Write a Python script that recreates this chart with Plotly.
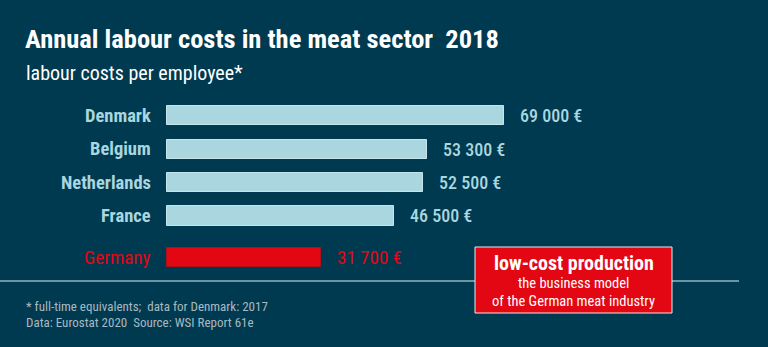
import plotly.graph_objects as go

# ---- data ----
countries = ["Denmark", "Belgium", "Netherlands", "France", "Germany"]
costs = [69000, 53300, 52500, 46500, 31700]
title = "Annual labour costs in the meat sector  2018"
subtitle = "labour costs per employee*"
footnote1 = "* full-time equivalents;  data for Denmark: 2017"
footnote2 = "Data: Eurostat 2020  Source: WSI Report 61e"
box_lines = ["low-cost production", "the business model", "of the German meat industry"]

# ---- layout / style ----
W, H = 768, 347
BG = "#003a50"
LIGHT = "#a9d6df"
RED = "#e30613"
FONT = "Roboto Condensed, DejaVu Sans Condensed, sans-serif"
row_pos = [0, 1, 2, 3, 4.23]          # Germany set apart from the others
colors = [LIGHT, LIGHT, LIGHT, LIGHT, RED]

x0_px, x_ref_px = 166.7, 503.5         # pixel of 0 and of the max value
k = (x_ref_px - x0_px) / max(costs)
x_range = [-x0_px / k, (W - x0_px) / k]
y0_px, dy_px = 115.7, 33.43
y_range = [(H - y0_px) / dy_px, -y0_px / dy_px]

def px(x): return x / W
def py(y): return 1 - y / H

fig = go.Figure()
fig.add_trace(go.Bar(
    x=costs, y=row_pos, orientation="h", width=0.57,
    marker=dict(color=colors, line=dict(color=["#c4e6ec"] * 4 + ["#b0101a"], width=1)),
    hoverinfo="skip",
))

ann = []
for c, v, p, col in zip(countries, costs, row_pos, colors):
    ger = c == "Germany"
    ann.append(dict(x=0, y=p, xref="x", yref="y", text=c, showarrow=False,
                    xanchor="right", yanchor="middle", xshift=-14,
                    font=dict(family=FONT, size=19 if ger else 18.5, color=col,
                              weight="normal" if ger else "bold")))
    ann.append(dict(x=v, y=p, xref="x", yref="y",
                    text=f"{v:,}".replace(",", " ") + " €", showarrow=False,
                    xanchor="left", yanchor="middle", xshift=14,
                    font=dict(family=FONT, size=19 if ger else 18, color=col,
                              weight="normal" if ger else 500)))

ann.append(dict(x=px(23), y=py(38), xref="paper", yref="paper", text=f"<b>{title}</b>",
                showarrow=False, xanchor="left", yanchor="middle",
                font=dict(family=FONT, size=26.5, color="white")))
ann.append(dict(x=px(24), y=py(73), xref="paper", yref="paper", text=subtitle,
                showarrow=False, xanchor="left", yanchor="middle",
                font=dict(family=FONT, size=20, color="white")))
ann.append(dict(x=px(24), y=py(306), xref="paper", yref="paper", text=footnote1,
                showarrow=False, xanchor="left", yanchor="middle",
                font=dict(family=FONT, size=13, color="#a9b9c1")))
ann.append(dict(x=px(24), y=py(322), xref="paper", yref="paper", text=footnote2,
                showarrow=False, xanchor="left", yanchor="middle",
                font=dict(family=FONT, size=13, color="#a9b9c1")))

bx0, bx1, by0, by1 = 475, 672, 247, 313
cx = (bx0 + bx1) / 2
ann.append(dict(x=px(cx), y=py(263), xref="paper", yref="paper", text=f"<b>{box_lines[0]}</b>",
                showarrow=False, xanchor="center", yanchor="middle",
                font=dict(family=FONT, size=20, color="white")))
ann.append(dict(x=px(cx), y=py(283), xref="paper", yref="paper", text=box_lines[1],
                showarrow=False, xanchor="center", yanchor="middle",
                font=dict(family=FONT, size=14.5, color="white")))
ann.append(dict(x=px(cx), y=py(301.5), xref="paper", yref="paper", text=box_lines[2],
                showarrow=False, xanchor="center", yanchor="middle",
                font=dict(family=FONT, size=14.5, color="white")))

shapes = [
    dict(type="line", xref="paper", yref="paper", x0=0, x1=px(739), y0=py(281), y1=py(281),
         line=dict(color="#8fb5c2", width=1.5)),
    dict(type="rect", xref="paper", yref="paper", x0=px(bx0), x1=px(bx1), y0=py(by0), y1=py(by1),
         fillcolor=RED, line=dict(color="#e8e8e8", width=1)),
]

fig.update_layout(
    width=W, height=H, margin=dict(l=0, r=0, t=0, b=0),
    paper_bgcolor=BG, plot_bgcolor=BG, showlegend=False,
    xaxis=dict(range=x_range, visible=False, fixedrange=True),
    yaxis=dict(range=y_range, visible=False, fixedrange=True),
    annotations=ann, shapes=shapes, bargap=0,
)
fig.write_html("out.html", config={"displayModeBar": False})
